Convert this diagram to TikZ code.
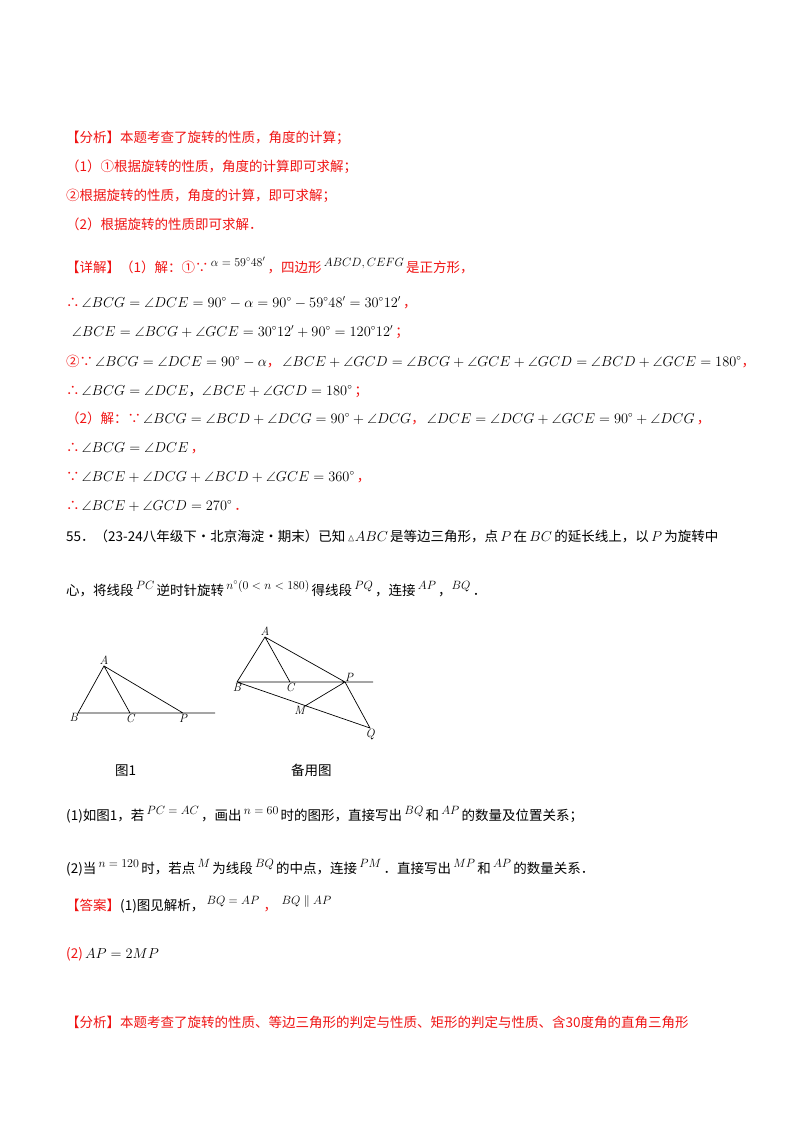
\documentclass[tikz,border=0pt]{standalone}
\usepackage{fontspec}
\usepackage{amssymb}
\newfontfamily\cjk{Noto Sans CJK SC}
\definecolor{rd}{RGB}{240,20,20}
\tikzset{ln/.style={anchor=base west,inner sep=0pt,font=\cjk\fontsize{13.5}{15}\selectfont},
 fig/.style={line width=0.7pt},
 lab/.style={inner sep=1pt,font=\fontsize{12}{13}\selectfont\itshape}}
\newcommand{\up}[1]{\raisebox{6pt}{\fontsize{12}{13}\selectfont$#1$}}
\begin{document}
\begin{tikzpicture}[x=1pt,y=-1pt]
\useasboundingbox (0,0) rectangle (800,1132);
\fill[white] (0,0) rectangle (800,1132);
\node[ln,text=rd] (l1) at (66,142) {【分析】本题考查了旋转的性质，角度的计算；};
\node[ln,text=rd] (l2) at (66,171) {（1）①根据旋转的性质，角度的计算即可求解；};
\node[ln,text=rd] (l3) at (66,200) {②根据旋转的性质，角度的计算，即可求解；};
\node[ln,text=rd] (l4) at (66,229) {（2）根据旋转的性质即可求解．};
\node[ln,text=rd] (l5) at (66,272) {【详解】（1）解：①∵\,\textcolor{black}{\up{\alpha=59^\circ48'}}\,，四边形\,\textcolor{black}{\up{ABCD,CEFG}}\,是正方形，};
\node[ln] (l6) at (66,307) {\textcolor{rd}{∴}\,$\angle BCG=\angle DCE=90^\circ-\alpha=90^\circ-59^\circ48'=30^\circ12'$\,\textcolor{rd}{，}};
\node[ln] (l7) at (72,336) {$\angle BCE=\angle BCG+\angle GCE=30^\circ12'+90^\circ=120^\circ12'$\,\textcolor{rd}{；}};
\node[ln] (l8) at (66,366) {\textcolor{rd}{②∵}\,$\angle BCG=\angle DCE=90^\circ-\alpha$\textcolor{rd}{，}\,$\angle BCE+\angle GCD=\angle BCG+\angle GCE+\angle GCD=\angle BCD+\angle GCE=180^\circ$\textcolor{rd}{，}};
\node[ln] (l9) at (66,395) {\textcolor{rd}{∴}\,$\angle BCG=\angle DCE$，$\angle BCE+\angle GCD=180^\circ$\,\textcolor{rd}{；}};
\node[ln] (l10) at (66,423) {\textcolor{rd}{（2）解：∵}\,$\angle BCG=\angle BCD+\angle DCG=90^\circ+\angle DCG$\textcolor{rd}{，}\,$\angle DCE=\angle DCG+\angle GCE=90^\circ+\angle DCG$\,\textcolor{rd}{，}};
\node[ln] (l11) at (66,452) {\textcolor{rd}{∴}\,$\angle BCG=\angle DCE$\,\textcolor{rd}{，}};
\node[ln] (l12) at (66,481) {\textcolor{rd}{∵}\,$\angle BCE+\angle DCG+\angle BCD+\angle GCE=360^\circ$\,\textcolor{rd}{，}};
\node[ln] (l13) at (66,510) {\textcolor{rd}{∴}\,$\angle BCE+\angle GCD=270^\circ$\,\textcolor{rd}{．}};
\node[ln] (q1) at (66,541) {55．（23-24八年级下·北京海淀·期末）已知\,{\fontsize{10}{11}\selectfont$\vartriangle$}$ABC$\,是等边三角形，点\,$P$\,在\,$BC$\,的延长线上，以\,$P$\,为旋转中};
\node[ln] (q2) at (66,595) {心，将线段\,\up{PC}\,逆时针旋转\,\up{n^\circ(0<n<180)}\,得线段\,\up{PQ}\,，连接\,\up{AP}\,，\up{BQ}\,．};
% figure 1
\coordinate (fB) at (78,713); \coordinate (fC) at (130,713); \coordinate (fP) at (183,713);
\coordinate (fA) at (104,666); \coordinate (fE) at (215,713);
\draw[fig] (fB) -- (fE) (fB) -- (fA) -- (fC) (fA) -- (fP);
\node[lab,above] (tA) at (fA) {A}; \node[lab,below left=-1pt] (tB) at (fB) {B};
\node[lab,below] (tC) at (fC) {C}; \node[lab,below] (tP) at (fP) {P};
% figure 2
\coordinate (gA) at (265,637); \coordinate (gB) at (237,682); \coordinate (gC) at (290,682);
\coordinate (gP) at (345,682); \coordinate (gE) at (373,682); \coordinate (gM) at (305,706);
\coordinate (gQ) at (370,728);
\draw[fig] (gB) -- (gE) (gB) -- (gA) -- (gC) (gA) -- (gP) -- (gQ) -- (gB) (gM) -- (gP);
\node[lab,above] (uA) at (gA) {A}; \node[lab,below] (uB) at (gB) {B};
\node[lab,below] (uC) at (gC) {C}; \node[lab,above right=-1pt] (uP) at (gP) {P};
\node[lab,below left=-1pt] (uM) at (gM) {M}; \node[lab,below] (uQ) at (gQ) {Q};
\node[ln] (c1) at (115,775) {图1};
\node[ln] (c2) at (291,775) {备用图};
\node[ln] (s1) at (66,820) {(1)如图1，若\,\up{PC=AC}\,，画出\,\up{n=60}\,时的图形，直接写出\,\up{BQ}\,和\,\up{AP}\,的数量及位置关系；};
\node[ln] (s2) at (66,873) {(2)当\,\up{n=120}\,时，若点\,\up{M}\,为线段\,\up{BQ}\,的中点，连接\,\up{PM}\,．直接写出\,\up{MP}\,和\,\up{AP}\,的数量关系．};
\node[ln,text=rd] (a1) at (66,910) {【答案】\textcolor{black}{(1)图见解析，}\,\textcolor{black}{\up{BQ=AP}}\,\,，\,\,\textcolor{black}{\up{BQ\parallel AP}}};
\node[ln,text=rd] (a2) at (66,958) {(2)\,\textcolor{black}{$AP=2MP$}};
\node[ln,text=rd] (a3) at (66,1027) {【分析】本题考查了旋转的性质、等边三角形的判定与性质、矩形的判定与性质、含30度角的直角三角形};
\end{tikzpicture}
\end{document}
